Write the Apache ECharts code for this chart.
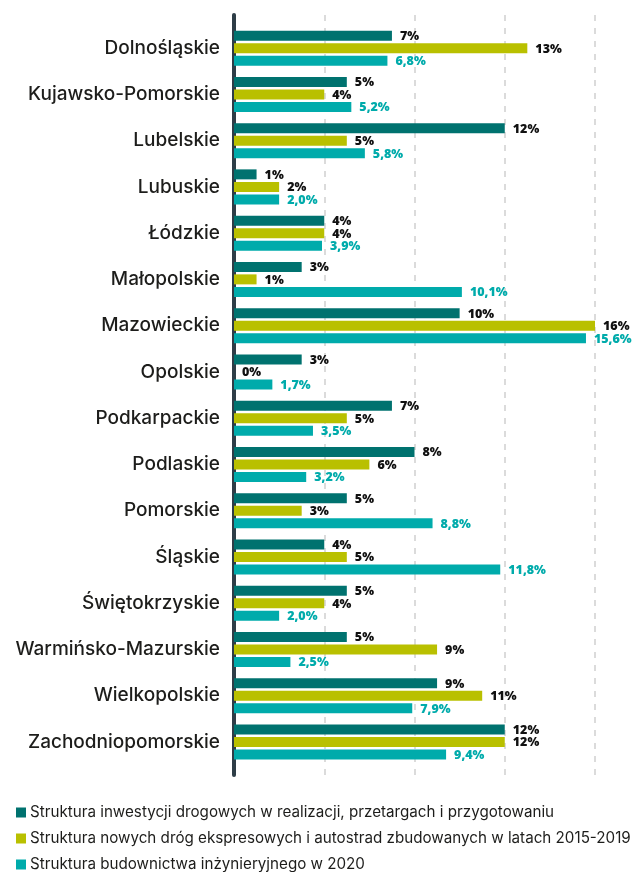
<!DOCTYPE html>
<html>
<head>
<meta charset="utf-8">
<script src="https://cdn.jsdelivr.net/npm/echarts@6/dist/echarts.min.js"></script>
<style>
  html, body { margin: 0; padding: 0; background: #fff; }
  #chart { width: 635px; height: 872px; }
</style>
</head>
<body>
<div id="chart"></div>
<script>
// data
const regions = ['Dolnośląskie', 'Kujawsko-Pomorskie', 'Lubelskie', 'Lubuskie', 'Łódzkie', 'Małopolskie',
  'Mazowieckie', 'Opolskie', 'Podkarpackie', 'Podlaskie', 'Pomorskie', 'Śląskie', 'Świętokrzyskie',
  'Warmińsko-Mazurskie', 'Wielkopolskie', 'Zachodniopomorskie'];
const seriesNames = [
  'Struktura inwestycji drogowych w realizacji, przetargach i przygotowaniu',
  'Struktura nowych dróg ekspresowych i autostrad zbudowanych w latach 2015-2019',
  'Struktura budownictwa inżynieryjnego w 2020'
];
const investments = [7, 5, 12, 1, 4, 3, 10, 3, 7, 8, 5, 4, 5, 5, 9, 12];
const newRoads = [13, 4, 5, 2, 4, 1, 16, 0, 5, 6, 3, 5, 4, 9, 11, 12];
const engineering = [6.8, 5.2, 5.8, 2.0, 3.9, 10.1, 15.6, 1.7, 3.5, 3.2, 8.8, 11.8, 2.0, 2.5, 7.9, 9.4];
const xTicks = [0, 4, 8, 12, 16];

const colors = ['#00726f', '#b9c000', '#00abab'];
const labelFont = '"Open Sans", sans-serif';
const textFont = 'Inter, sans-serif';

const chartInstance = echarts.init(document.getElementById('chart'));

const makeSeries = (name, data, color, labelColor, decimals) => ({
  name,
  type: 'bar',
  xAxisIndex: 1,
  yAxisIndex: 1,
  data,
  barWidth: 10,
  barGap: '25%',
  itemStyle: { color },
  label: {
    show: true,
    position: 'right',
    distance: 8,
    offset: [0, 1],
    color: labelColor,
    fontFamily: labelFont,
    fontWeight: 800,
    fontSize: 12.5,
    formatter: p => p.value.toFixed(decimals).replace('.', ',') + '%'
  }
});

const option = {
  animation: false,
  color: colors,
  grid: [
    // frame: dashed gridlines + thick axis line
    { top: 15, bottom: 97, left: 234, right: 40 },
    // bars
    { top: 25, bottom: 107, left: 234, right: 40 }
  ],
  legend: {
    orient: 'vertical',
    left: 11,
    top: 800,
    height: 100,
    itemGap: 11,
    itemWidth: 10,
    itemHeight: 10,
    itemGap: 11,
    icon: 'rect',
    data: seriesNames,
    textStyle: {
      fontFamily: textFont,
      fontSize: 15.2,
      color: '#1d1d1b',
      padding: [0, 0, 0, -1]
    }
  },
  xAxis: [
    {
      gridIndex: 0,
      type: 'value',
      min: xTicks[0],
      max: xTicks[xTicks.length - 1],
      interval: 4,
      axisLine: { show: false },
      axisTick: { show: false },
      axisLabel: { show: false },
      splitLine: {
        lineStyle: { color: '#cfcfcf', width: 1.5, type: [6, 7] }
      }
    },
    {
      gridIndex: 1,
      type: 'value',
      min: xTicks[0],
      max: xTicks[xTicks.length - 1],
      show: false
    }
  ],
  yAxis: [
    {
      gridIndex: 0,
      type: 'value',
      min: 0,
      max: 1,
      axisTick: { show: false },
      axisLabel: { show: false },
      splitLine: { show: false },
      axisLine: { show: true, lineStyle: { color: '#2e3d47', width: 4 } }
    },
    {
      gridIndex: 1,
      type: 'category',
      inverse: true,
      data: regions,
      axisTick: { show: false },
      axisLine: { show: false },
      axisLabel: {
        margin: 14,
        fontFamily: textFont,
        fontWeight: 500,
        fontSize: 19,
        color: '#1d1d1b'
      }
    }
  ],
  series: [
    makeSeries(seriesNames[0], investments, colors[0], '#111', 0),
    makeSeries(seriesNames[1], newRoads, colors[1], '#111', 0),
    makeSeries(seriesNames[2], engineering, colors[2], colors[2], 1)
  ]
};

chartInstance.setOption(option);
</script>
</body>
</html>
